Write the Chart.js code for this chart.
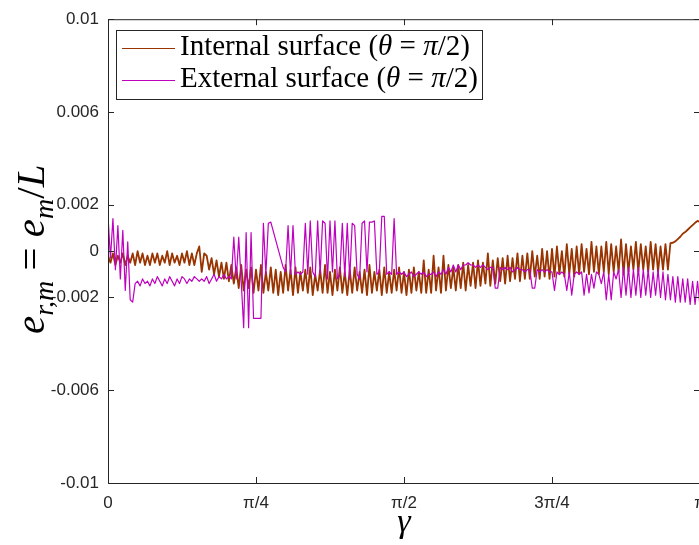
<!DOCTYPE html>
<html>
<head>
<meta charset="utf-8">
<script src="https://cdn.jsdelivr.net/npm/chart.js@4.4.1/dist/chart.umd.min.js"></script>
<style>
html, body { margin: 0; padding: 0; background: #fff; overflow: hidden; }
#wrap { position: absolute; left: 0; top: 0; width: 720px; height: 545px; }
</style>
</head>
<body>
<div id="wrap"><canvas id="chart" width="720" height="545"></canvas></div>
<script>
// gamma grid from 0 to pi
const N_POINTS = 241;
const gamma = Array.from({ length: N_POINTS }, (_, i) => i * Math.PI / (N_POINTS - 1));

// values, in units of 1e-4
const internalVals = [
    -2, -5, -1, -6, -2, -5, -1, -6, -2, -5,
    -1, -6, 0, -5, -1, -6, -2, -6, -1, -5,
    -1, -6, -2, -5, 0, -6, -1, -5, -2, -6,
    -1, -5, 0, -6, -1, -6, -1, 2, -9, -1,
    -2, -8, -3, -10, -4, -11, -5, -12, -5, -13,
    -6, -14, -7, -16, -6, -17, -8, -16, -7, -18,
    -8, -17, -6, -18, -9, -17, -7, -18, -8, -19,
    -9, -18, -6, -17, -8, -19, -7, -18, -9, -17,
    -8, -18, -7, -19, -10, -17, -8, -18, -6, -18,
    -9, -19, -8, -17, -7, -18, -9, -19, -8, -18,
    -7, -17, -9, -18, -8, -19, -6, -18, -9, -17,
    -8, -19, -7, -18, -9, -18, -8, -17, -7, -18,
    -9, -19, -8, -18, -7, -17, -9, -18, -4, -18,
    -8, -18, -2, -17, -7, -18, -2, -17, -6, -16,
    -7, -17, -6, -16, -5, -17, -6, -15, -5, -16,
    -4, -15, -5, -14, -1, -15, -4, -14, -3, -13,
    -3, -14, -2, -13, -3, -12, -1, -13, -2, -12,
    -1, -12, 0, -11, -2, -12, 1, -11, 0, -12,
    1, -11, 2, -10, 0, -11, 3, -10, 1, -11,
    2, -10, 3, -9, 1, -10, 4, -9, 2, -10,
    2, -9, 4, -10, 3, -9, 2, -9, 5, -10,
    3, -9, 2, -8, 4, -9, 3, -8, 2, -9,
    4, -8, 3, -9, 2, -8, 3, -8,
    3.4, 3.6, 4.2, 5.2, 6.2, 7.5, 8.2, 9.2, 10.2, 11.2, 12.2, 13, 12.6
];

const externalVals = [
    15, -3, 14, -8, 11, -12, 9, -17, 4, -21, -22,
    -14, -13, -15, -12, -14, -13, -15, -12, -14, -11,
    -13, -15, -12, -14, -11, -13, -15, -12, -14, -11,
    -12, -14, -12, -13, -11, -12, -13,
    -12, -13, -11, -14, -12, -10, -13, -11, -12, -10, -12, -11, -12,
    6, -12, 6, -13, -33, 8, -33, 8, -29, -29, -29, -29,
    12, -10, 12, 12.5, null, null, null, null,
    -7, -9, 11, -10, 11, -10, -9, -10, -9,
    12, -10, 13, -9, -11, 13, -10, 13, 12, -12,
    13, -9, 13, -12, -10, 12, -11, 12, -12, 12,
    11, -10, -12, 12, 13, -9, 12.5, 12.5, 13, -10,
    -9, 15, 15, -10, -9, -10, 14, -10,
    -9, -10, -9, -11, -10, -9, -11, -10, -9, -10, -9, -11, -10,
    -10, -9, -11, -9, -10, -8, -10, -7, -9, -6,
    -9, -6, -8, -6, -6, -5, -6, -6, -7, -6,
    -7, -6, -7, -8, -7, -7, -16, -16, -7, -8,
    -7, -8, -7, -9, -8, -7, -8, -8, -9, -8,
    -8, -16, -16, -8, -9, -8, -9, -8, -9, -9,
    -17, -9, -10, -9, -10, -17, -9, -19, -10, -9,
    -10, -9, -19, -10, -18, -10, -16, -9, -10, -14,
    -9, -21, -10, -21, -9, -12, -8, -20, -7, -19,
    -7, -20, -8, -19, -7, -20, -8, -19, -8, -20,
    -9, -19, -8, -20, -9,
    -21, -10, -21, -11, -22, -11, -22, -12, -22, -12, -23, -13, -23, -13, -24
];

const xTickValues = [0, Math.PI / 4, Math.PI / 2, 3 * Math.PI / 4, Math.PI];
const xTickLabels = ['0', 'π/4', 'π/2', '3π/4', 'π'];
const yTickValues = [-0.01, -0.006, -0.002, 0, 0.002, 0.006, 0.01];
const yTickLabels = ['-0.01', '-0.006', '-0.002', '0', '0.002', '0.006', '0.01'];
const seriesNames = ['Internal surface', 'External surface'];

const INT_COLOR = '#993300';
const EXT_COLOR = '#bf00bf';
const AXIS_COLOR = '#262626';
const SANS = "'Liberation Sans', Arial, sans-serif";
const SERIF = "'Liberation Serif', 'DejaVu Serif', serif";

// draw a row of text pieces with their own fonts, returns end x
function drawRuns(ctx, runs, x, y) {
    runs.forEach(r => {
        ctx.font = r.font;
        ctx.fillText(r.text, x, y + (r.dy || 0));
        x += ctx.measureText(r.text).width;
    });
    return x;
}

const framePlugin = {
    id: 'frame',
    afterDraw(chart) {
        const { ctx, chartArea: a, scales: { x, y } } = chart;
        ctx.save();

        // box and inward ticks
        ctx.strokeStyle = AXIS_COLOR;
        ctx.lineWidth = 1;
        ctx.strokeRect(a.left + 0.5, a.top + 0.5, a.right - a.left, a.bottom - a.top);
        ctx.beginPath();
        xTickValues.forEach(v => {
            const px = Math.round(x.getPixelForValue(v)) + 0.5;
            ctx.moveTo(px, a.bottom); ctx.lineTo(px, a.bottom - 6);
            ctx.moveTo(px, a.top); ctx.lineTo(px, a.top + 6);
        });
        yTickValues.forEach(v => {
            const py = Math.round(y.getPixelForValue(v)) + 0.5;
            ctx.moveTo(a.left, py); ctx.lineTo(a.left + 6, py);
            ctx.moveTo(a.right, py); ctx.lineTo(a.right - 6, py);
        });
        ctx.stroke();

        // legend
        ctx.fillStyle = '#fff';
        ctx.fillRect(116.5, 30.5, 366, 69);
        ctx.strokeRect(116.5, 30.5, 366, 69);
        const colors = [INT_COLOR, EXT_COLOR];
        const roman = '29px ' + SERIF;
        const ital = 'italic 29px ' + SERIF;
        seriesNames.forEach((name, i) => {
            const cy = 48 + i * 32;
            ctx.strokeStyle = colors[i];
            ctx.beginPath();
            ctx.moveTo(122, cy + 0.5); ctx.lineTo(175, cy + 0.5);
            ctx.stroke();
            ctx.fillStyle = '#000';
            ctx.textBaseline = 'alphabetic';
            drawRuns(ctx, [
                { text: name + ' (', font: roman },
                { text: 'θ', font: ital },
                { text: ' = ', font: roman },
                { text: 'π', font: ital },
                { text: '/2)', font: roman }
            ], 180, cy + 7);
        });

        // x title
        ctx.fillStyle = '#000';
        ctx.font = 'italic 34px ' + SERIF;
        ctx.textAlign = 'center';
        ctx.fillText('γ', 404, 532);

        // y title, rotated
        ctx.textAlign = 'left';
        ctx.translate(44, 334);
        ctx.rotate(-Math.PI / 2);
        const big = 'italic 41px ' + SERIF;
        const small = 'italic 28px ' + SERIF;
        drawRuns(ctx, [
            { text: 'e', font: big },
            { text: 'r,m', font: small, dy: 9 },
            { text: ' = ', font: '41px ' + SERIF },
            { text: 'e', font: big },
            { text: 'm', font: small, dy: 9 },
            { text: '/', font: '41px ' + SERIF },
            { text: 'L', font: big }
        ], 0, 0);

        ctx.restore();
    }
};

const tickFont = { family: SANS, size: 17 };

new Chart(document.getElementById('chart').getContext('2d'), {
    type: 'line',
    data: {
        datasets: [{
            label: seriesNames[0],
            data: gamma.map((g, i) => ({ x: g, y: internalVals[i] / 1e4 })),
            borderColor: INT_COLOR,
            borderWidth: 1.8,
            borderJoinStyle: 'round',
            pointRadius: 0,
            tension: 0,
            order: 1
        }, {
            label: seriesNames[1],
            data: gamma.map((g, i) => ({ x: g, y: externalVals[i] === null ? null : externalVals[i] / 1e4 })),
            borderColor: EXT_COLOR,
            borderWidth: 1.2,
            borderJoinStyle: 'round',
            pointRadius: 0,
            tension: 0,
            spanGaps: true,
            order: 0
        }]
    },
    options: {
        responsive: false,
        animation: false,
        events: [],
        layout: { padding: { top: 14, right: 20, left: 0, bottom: 0 } },
        plugins: {
            legend: { display: false },
            tooltip: { enabled: false }
        },
        scales: {
            x: {
                type: 'linear',
                min: 0,
                max: Math.PI,
                afterBuildTicks: s => { s.ticks = xTickValues.map(v => ({ value: v })); },
                afterFit: s => { s.height = 62; },
                grid: { display: false, drawTicks: false },
                border: { display: false },
                ticks: {
                    padding: 10,
                    maxRotation: 0,
                    autoSkip: false,
                    color: AXIS_COLOR,
                    font: tickFont,
                    callback: (v, i) => xTickLabels[i]
                }
            },
            y: {
                min: -0.01,
                max: 0.01,
                afterBuildTicks: s => { s.ticks = yTickValues.map(v => ({ value: v })); },
                afterFit: s => { s.width = 108; },
                grid: { display: false, drawTicks: false },
                border: { display: false },
                ticks: {
                    padding: 9,
                    autoSkip: false,
                    color: AXIS_COLOR,
                    font: tickFont,
                    callback: (v, i) => yTickLabels[i]
                }
            }
        }
    },
    plugins: [framePlugin]
});
</script>
</body>
</html>
